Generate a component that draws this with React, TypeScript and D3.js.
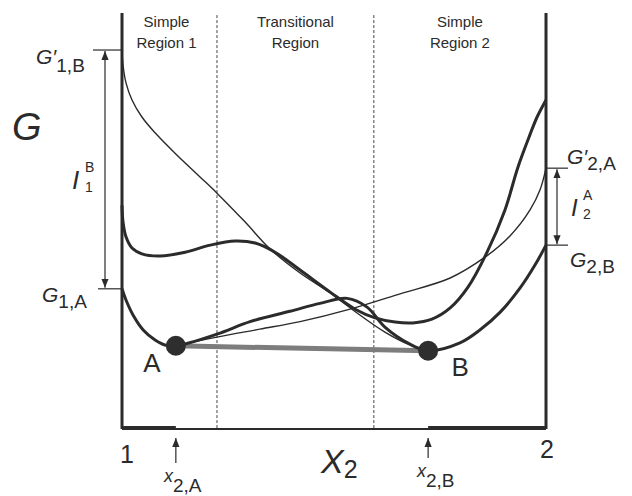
import React from 'react';
import * as d3 from 'd3';

const width = 632;
const height = 496;

// X2 runs from pure component 1 (0) to pure component 2 (1); G is in arbitrary units
const mainX = [0, 0.0094, 0.026, 0.05, 0.078, 0.101, 0.127, 0.224, 0.302, 0.396, 0.467, 0.531, 0.578, 0.62, 0.679, 0.722, 0.797, 0.844, 0.892, 0.939, 0.974, 1.0];
const mainG = [0.337, 0.31, 0.274, 0.238, 0.214, 0.202, 0.2, 0.228, 0.258, 0.283, 0.302, 0.314, 0.293, 0.245, 0.204, 0.188, 0.207, 0.238, 0.281, 0.339, 0.394, 0.442];

const upperX = [0, 0.0024, 0.0094, 0.0236, 0.047, 0.09, 0.149, 0.208, 0.267, 0.314, 0.361, 0.42, 0.491, 0.55, 0.597, 0.644, 0.686, 0.731, 0.774, 0.816, 0.861, 0.903, 0.934, 0.962, 0.979, 1.0];
const upperG = [0.538, 0.498, 0.462, 0.435, 0.421, 0.416, 0.425, 0.442, 0.452, 0.447, 0.425, 0.382, 0.329, 0.288, 0.267, 0.257, 0.255, 0.264, 0.291, 0.341, 0.425, 0.526, 0.63, 0.707, 0.75, 0.791];

const alphaX = [0.127, 0.224, 0.325, 0.42, 0.538, 0.656, 0.774, 0.856, 0.915, 0.962, 0.986, 1.0];
const alphaG = [0.2, 0.221, 0.24, 0.258, 0.288, 0.325, 0.363, 0.413, 0.464, 0.526, 0.575, 0.627];

const betaX = [0, 0.0024, 0.0094, 0.0236, 0.047, 0.078, 0.125, 0.184, 0.224, 0.29, 0.349, 0.42, 0.491, 0.561, 0.62, 0.679, 0.722];
const betaG = [0.911, 0.875, 0.832, 0.791, 0.75, 0.712, 0.663, 0.606, 0.567, 0.498, 0.433, 0.375, 0.327, 0.274, 0.233, 0.202, 0.188];

// common tangent points
const pointA = { x: 0.127, g: 0.2 };
const pointB = { x: 0.722, g: 0.188 };

const regionBounds = [0.224, 0.594];
const regionLabels = [["Simple", "Region 1"], ["Transitional", "Region"], ["Simple", "Region 2"]];

const font = "'Liberation Sans', Arial, Helvetica, sans-serif";
const ink = "#2b2b2b";

const x = d3.scaleLinear().domain([0, 1]).range([122, 546]);
const y = d3.scaleLinear().domain([0, 1]).range([429, 13]);

const line = d3.line<[number, number]>()
    .x(d => x(d[0]))
    .y(d => y(d[1]))
    .curve(d3.curveCatmullRom.alpha(0.5));

const zip = (xs: number[], gs: number[]) => xs.map((v, i) => [v, gs[i]] as [number, number]);

const App = () => {
    const gA1 = mainG[0];
    const gB2 = mainG[mainG.length - 1];
    const gB1 = betaG[0];
    const gA2 = alphaG[alphaG.length - 1];
    const bounds = [0, ...regionBounds, 1];

    return (
        <svg width={width} height={height} style={{ position: 'absolute', left: 0, top: 0, background: '#fff' }}
            fontFamily={font} fill={ink}>
            <defs>
                <marker id="head" viewBox="0 0 10 10" refX="10" refY="5" markerWidth="9" markerHeight="15"
                    orient="auto-start-reverse" markerUnits="userSpaceOnUse">
                    <path d="M0,1 L10,5 L0,9 Z" fill={ink} />
                </marker>
            </defs>

            {/* region dividers */}
            {regionBounds.map(b => (
                <line key={b} x1={x(b)} x2={x(b)} y1={y(0.995)} y2={y(0)} stroke="#444" strokeWidth={1} strokeDasharray="3,2" />
            ))}
            {regionLabels.map((lab, i) => {
                const cx = x((bounds[i] + bounds[i + 1]) / 2) - (i === 0 ? 3 : 0);
                return (
                    <text key={i} textAnchor="middle" fontSize={15}>
                        <tspan x={cx} y={27}>{lab[0]}</tspan>
                        <tspan x={cx} y={48}>{lab[1]}</tspan>
                    </text>
                );
            })}

            {/* frame */}
            <line x1={x(0)} x2={x(0)} y1={y(1)} y2={y(0)} stroke={ink} strokeWidth={3} />
            <line x1={x(1)} x2={x(1)} y1={y(1)} y2={y(0)} stroke={ink} strokeWidth={3} />
            <line x1={x(0)} x2={x(1)} y1={y(0)} y2={y(0)} stroke={ink} strokeWidth={2} />
            <line x1={x(0)} x2={x(pointA.x)} y1={y(0) - 1} y2={y(0) - 1} stroke={ink} strokeWidth={4} />
            <line x1={x(pointB.x)} x2={x(1)} y1={y(0) - 1} y2={y(0) - 1} stroke={ink} strokeWidth={4} />

            {/* common tangent */}
            <line x1={x(pointA.x)} y1={y(pointA.g)} x2={x(pointB.x)} y2={y(pointB.g)} stroke="#7d7d7d" strokeWidth={5} />

            {/* curves */}
            <path d={line(zip(betaX, betaG)) ?? ''} fill="none" stroke={ink} strokeWidth={1.4} />
            <path d={line(zip(alphaX, alphaG)) ?? ''} fill="none" stroke={ink} strokeWidth={1.4} />
            <path d={line(zip(upperX, upperG)) ?? ''} fill="none" stroke={ink} strokeWidth={3} />
            <path d={line(zip(mainX, mainG)) ?? ''} fill="none" stroke={ink} strokeWidth={3} />

            <circle cx={x(pointA.x)} cy={y(pointA.g)} r={10} fill="#2e2e2e" />
            <circle cx={x(pointB.x)} cy={y(pointB.g)} r={10} fill="#2e2e2e" />
            <text x={x(pointA.x) - 24} y={y(pointA.g) + 26} fontSize={26} textAnchor="middle">A</text>
            <text x={x(pointB.x) + 32} y={y(pointB.g) + 25} fontSize={26} textAnchor="middle">B</text>

            {/* left annotations */}
            <line x1={x(0) - 29} x2={x(0)} y1={y(gB1)} y2={y(gB1)} stroke={ink} strokeWidth={1.2} />
            <line x1={x(0) - 24} x2={x(0)} y1={y(gA1)} y2={y(gA1)} stroke={ink} strokeWidth={1.2} />
            <line x1={x(0) - 17} x2={x(0) - 17} y1={y(gB1) + 1} y2={y(gA1) - 1} stroke={ink} strokeWidth={1.2}
                markerStart="url(#head)" markerEnd="url(#head)" />
            <text x={36} y={64} fontSize={21}>
                <tspan fontStyle="italic">G′</tspan>
                <tspan fontSize={19} dy={8}>1,B</tspan>
            </text>
            <text x={42} y={302} fontSize={21}>
                <tspan fontStyle="italic">G</tspan>
                <tspan fontSize={19} dy={6}>1,A</tspan>
            </text>
            <text x={12} y={140} fontSize={38} fontStyle="italic">G</text>
            <text x={72} y={189} fontSize={26} fontStyle="italic">I</text>
            <text x={85} y={172} fontSize={14}>B</text>
            <text x={85} y={192} fontSize={14}>1</text>

            {/* right annotations */}
            <line x1={x(1)} x2={x(1) + 22} y1={y(gA2)} y2={y(gA2)} stroke={ink} strokeWidth={1.2} />
            <line x1={x(1)} x2={x(1) + 22} y1={y(gB2)} y2={y(gB2)} stroke={ink} strokeWidth={1.2} />
            <line x1={x(1) + 11} x2={x(1) + 11} y1={y(gA2) + 1} y2={y(gB2) - 1} stroke={ink} strokeWidth={1.2}
                markerStart="url(#head)" markerEnd="url(#head)" />
            <text x={567} y={164} fontSize={21}>
                <tspan fontStyle="italic">G′</tspan>
                <tspan fontSize={19} dy={6}>2,A</tspan>
            </text>
            <text x={570} y={267} fontSize={21}>
                <tspan fontStyle="italic">G</tspan>
                <tspan fontSize={19} dy={6}>2,B</tspan>
            </text>
            <text x={571} y={216} fontSize={24} fontStyle="italic">I</text>
            <text x={583} y={200} fontSize={14}>A</text>
            <text x={583} y={219} fontSize={14}>2</text>

            {/* bottom annotations */}
            <line x1={x(pointA.x)} x2={x(pointA.x)} y1={463} y2={y(0) + 9} stroke={ink} strokeWidth={1.2} markerEnd="url(#head)" />
            <line x1={x(pointB.x)} x2={x(pointB.x)} y1={458} y2={y(0) + 9} stroke={ink} strokeWidth={1.2} markerEnd="url(#head)" />
            <text x={x(0) + 5} y={463} fontSize={25} textAnchor="middle">1</text>
            <text x={x(1) + 1} y={458} fontSize={25} textAnchor="middle">2</text>
            <text x={321} y={473} fontSize={34} fontStyle="italic">
                X<tspan fontSize={25} fontStyle="normal" dy={5}>2</tspan>
            </text>
            <text x={164} y={482} fontSize={18}>
                <tspan fontStyle="italic">x</tspan>
                <tspan fontSize={19} dy={10}>2,A</tspan>
            </text>
            <text x={417} y={477} fontSize={18}>
                <tspan fontStyle="italic">x</tspan>
                <tspan fontSize={19} dy={10}>2,B</tspan>
            </text>
        </svg>
    );
};

export default App;
